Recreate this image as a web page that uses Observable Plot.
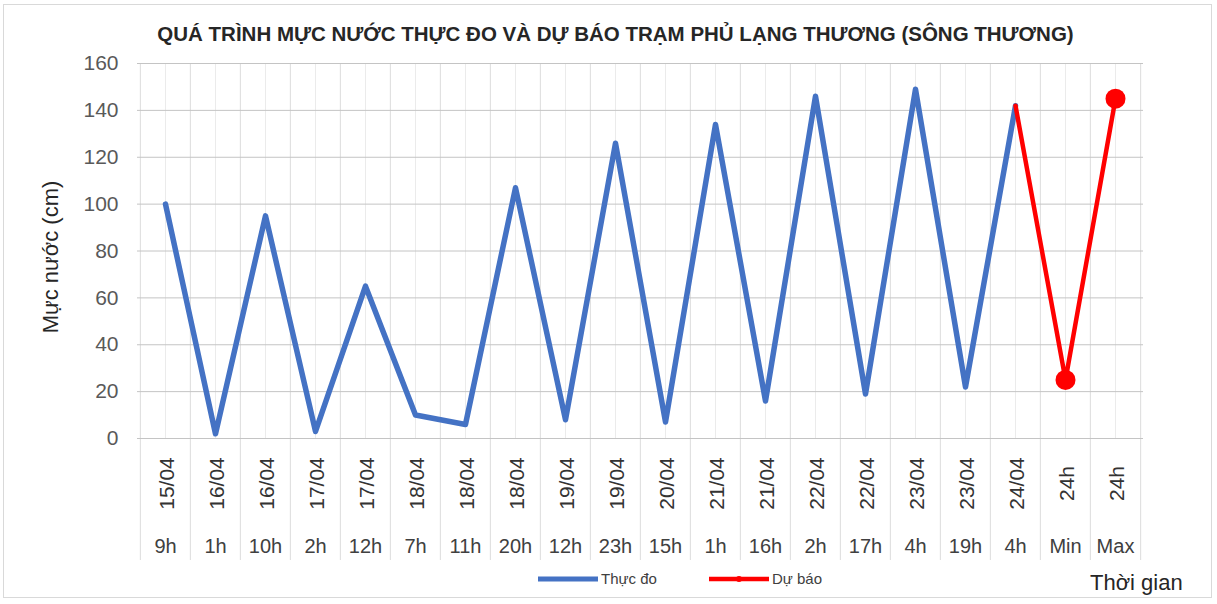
<!DOCTYPE html>
<html>
<head>
<meta charset="utf-8">
<script src="https://cdn.jsdelivr.net/npm/d3@7"></script>
<script src="https://cdn.jsdelivr.net/npm/@observablehq/plot@0.6"></script>
<style>
  html, body { margin: 0; padding: 0; background: #fff; }
  #wrap { position: relative; width: 1217px; height: 604px; overflow: hidden; font-family: "Liberation Sans", Arial, sans-serif; }
  #frame { position: absolute; left: 3px; top: 4px; width: 1209px; height: 594px; border: 1px solid #d9d9d9; box-sizing: border-box; pointer-events: none; }
  #legend { position: absolute; left: 538px; top: 570px; display: flex; align-items: center; font-size: 15px; color: #404040; }
  #legend .item { display: flex; align-items: center; margin-right: 52px; }
  #legend svg { display: block; margin-right: 3px; }
  #xlabel { position: absolute; left: 1090px; top: 570px; font-size: 22px; color: #262626; }
</style>
</head>
<body>
<div id="wrap">
  <div id="chart"></div>
  <div id="frame"></div>
  <div id="legend"></div>
  <div id="xlabel"></div>
</div>
<script>
const titleText = "QUÁ TRÌNH MỰC NƯỚC THỰC ĐO VÀ DỰ BÁO TRẠM PHỦ LẠNG THƯƠNG (SÔNG THƯƠNG)";
const yLabel = "Mực nước (cm)";
const xLabel = "Thời gian";
const seriesNames = ["Thực đo", "Dự báo"];
const seriesColors = ["#4472C4", "#FF0000"];

const dates = ["15/04","16/04","16/04","17/04","17/04","18/04","18/04","18/04","19/04","19/04","20/04","21/04","21/04","22/04","22/04","23/04","23/04","24/04","24h","24h"];
const hours = ["9h","1h","10h","2h","12h","7h","11h","20h","12h","23h","15h","1h","16h","2h","17h","4h","19h","4h","Min","Max"];
const observed = [100, 2, 95, 3, 65, 10, 6, 107, 8, 126, 7, 134, 16, 146, 19, 149, 22, 142, null, null];
const forecast = [null, null, null, null, null, null, null, null, null, null, null, null, null, null, null, null, null, 142, 25, 145];
const forecastMarked = [false, false, false, false, false, false, false, false, false, false, false, false, false, false, false, false, false, false, true, true];
const yTicks = [0, 20, 40, 60, 80, 100, 120, 140, 160];

const W = 1217, H = 604;
const mL = 137, mR = 74, mT = 63, mB = 166;
const idx = d3.range(dates.length);
const step = (W - mL - mR) / idx.length;

const obsData = idx.filter(i => observed[i] != null).map(i => ({i, v: observed[i]}));
const fcData = idx.filter(i => forecast[i] != null).map(i => ({i, v: forecast[i], m: forecastMarked[i]}));

const chart = Plot.plot({
  width: W,
  height: H,
  marginLeft: mL,
  marginRight: mR,
  marginTop: mT,
  marginBottom: mB,
  style: { fontFamily: "'Liberation Sans', Arial, sans-serif", background: "transparent", overflow: "visible" },
  x: { type: "point", domain: idx, padding: 0.5, align: 0.5, axis: null },
  y: { domain: [0, 160], axis: null },
  marks: [
    Plot.ruleX(idx, { x: d => d, stroke: "#ebebeb", strokeWidth: 1 }),
    Plot.ruleX(idx, { x: d => d, dx: -step / 2, stroke: "#dcdcdc", strokeWidth: 1, insetBottom: -122 }),
    Plot.ruleX([idx[idx.length - 1]], { x: d => d, dx: step / 2, stroke: "#dcdcdc", strokeWidth: 1, insetBottom: -122 }),
    Plot.ruleY(yTicks, { y: d => d, stroke: "#c4c4c4", strokeWidth: 1 }),
    Plot.axisY(yTicks, { tickSize: 0, tickPadding: 19, fontSize: 21, color: "#595959", label: null }),
    Plot.text([yLabel], { frameAnchor: "left", dx: -87, dy: 6, rotate: -90, fontSize: 22, fill: "#262626", lineAnchor: "middle", textAnchor: "middle" }),
    Plot.text([titleText], { frameAnchor: "top", dx: -25, dy: -29, lineAnchor: "middle", textAnchor: "middle", fontSize: 20.5, fontWeight: "bold", fill: "#262626" }),
    Plot.text(idx, { x: d => d, text: d => dates[d], frameAnchor: "bottom", lineAnchor: "middle", textAnchor: "middle", rotate: -90, dy: 45, dx: 2, fontSize: 21, fill: "#333333" }),
    Plot.text(idx, { x: d => d, text: d => hours[d], frameAnchor: "bottom", lineAnchor: "middle", textAnchor: "middle", dy: 108, fontSize: 20, fill: "#404040" }),
    Plot.line(obsData, { x: "i", y: "v", stroke: seriesColors[0], strokeWidth: 5.5, strokeLinejoin: "round" }),
    Plot.line(fcData, { x: "i", y: "v", stroke: seriesColors[1], strokeWidth: 4.5, strokeLinejoin: "round" }),
    Plot.dot(fcData.filter(d => d.m), { x: "i", y: "v", r: 10, fill: seriesColors[1], stroke: "none" })
  ]
});
document.getElementById("chart").appendChild(chart);

const legend = document.getElementById("legend");
seriesNames.forEach((name, k) => {
  const item = document.createElement("div");
  item.className = "item";
  const marker = k === 1 ? `<circle cx="30" cy="5" r="3" fill="${seriesColors[k]}"/>` : "";
  item.innerHTML = `<svg width="60" height="10"><line x1="0" y1="5" x2="60" y2="5" stroke="${seriesColors[k]}" stroke-width="${k === 0 ? 5 : 4.5}"/>${marker}</svg><span>${name}</span>`;
  legend.appendChild(item);
});
document.getElementById("xlabel").textContent = xLabel;
</script>
</body>
</html>
